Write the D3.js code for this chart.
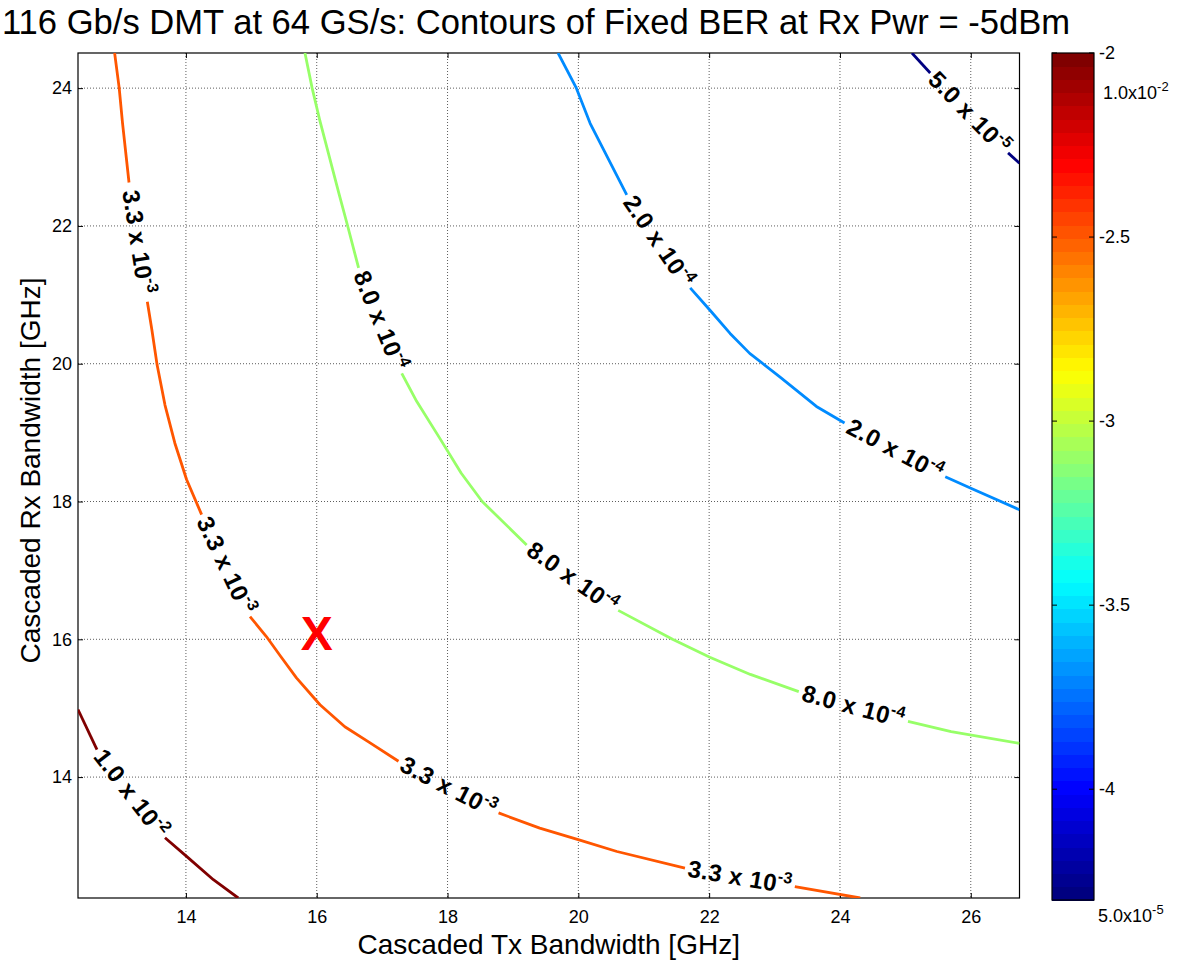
<!DOCTYPE html>
<html><head><meta charset="utf-8">
<script src="https://cdn.jsdelivr.net/npm/d3@7"></script>
<style>body{margin:0;background:#fff} text{font-family:"Liberation Sans",Arial,Helvetica,sans-serif}</style>
</head><body><svg id="c" width="1179" height="961"></svg>
<script>
// ---- data ----
const berLevels = [1.0e-2, 3.3e-3, 8.0e-4, 2.0e-4, 5.0e-5];
const berMantissa = ["1.0", "3.3", "8.0", "2.0", "5.0"];
const berExponent = ["-2", "-3", "-4", "-4", "-5"];

// contour pieces [TxBW, RxBW] in GHz; gaps between pieces hold the inline labels
const contour1e2 = [
  [[12.35,14.98],[12.64,14.40]],
  [[13.68,13.12],[14.01,12.85],[14.42,12.51],[14.80,12.245]]
];
const contour3p3e3 = [
  [[12.91,24.51],[12.98,24.00],[13.03,23.50],[13.13,22.63]],
  [[13.41,20.90],[13.48,20.49],[13.56,19.98],[13.68,19.40],[13.83,18.85],[14.01,18.32],[14.24,17.81]],
  [[14.98,16.33],[15.23,16.04],[15.45,15.75],[15.69,15.44],[16.05,15.05],[16.43,14.73],[16.81,14.50],[17.25,14.23]],
  [[18.78,13.48],[19.41,13.26],[20.01,13.09],[20.59,12.92],[21.63,12.68]],
  [[23.31,12.41],[24.31,12.245]]
];
const contour8e4 = [
  [[15.82,24.51],[15.93,24.00],[16.05,23.52],[16.34,22.47],[16.47,22.01],[16.64,21.39]],
  [[17.30,19.86],[17.53,19.45],[17.88,18.92],[18.21,18.41],[18.53,18.00],[19.21,17.37]],
  [[20.61,16.42],[21.44,16.00],[22.01,15.74],[22.63,15.49],[23.37,15.24]],
  [[25.04,14.81],[25.70,14.66],[26.745,14.49]]
];
const contour2e4 = [
  [[19.69,24.51],[19.97,24.00],[20.18,23.49],[20.74,22.45]],
  [[21.71,21.10],[22.01,20.78],[22.32,20.44],[22.62,20.15],[23.08,19.81],[23.64,19.38],[24.07,19.14]],
  [[25.61,18.36],[26.01,18.19],[26.745,17.88]]
];
const contour5e5 = [
  [[25.10,24.51],[25.38,24.22]],
  [[26.57,23.06],[26.745,22.91]]
];
const contours = [contour1e2, contour3p3e3, contour8e4, contour2e4, contour5e5];

const markerPoint = [16, 16];
const xTicks = [14, 16, 18, 20, 22, 24, 26];
const yTicks = [14, 16, 18, 20, 22, 24];
const cbTicks = [-2, -2.5, -3, -3.5, -4];
const xDomain = [12.35, 26.745];
const yDomain = [12.245, 24.51];
const cbDomain = [Math.log10(5e-5), -2];
const cbExtraMant = ["1.0", "5.0"];
const cbExtraExp = ["-2", "-5"];

const titleText = "116 Gb/s DMT at 64 GS/s: Contours of Fixed BER at Rx Pwr = -5dBm";
const xLabel = "Cascaded Tx Bandwidth [GHz]";
const yLabel = "Cascaded Rx Bandwidth [GHz]";

// ---- layout ----
const svg = d3.select("#c");
const M = {l: 78, t: 53, r: 1019.5, b: 898};
const CB = {l: 1052, r: 1094, t: 53, b: 900};
const x = d3.scaleLinear().domain(xDomain).range([M.l, M.r]);
const y = d3.scaleLinear().domain(yDomain).range([M.b, M.t]);
const yc = d3.scaleLinear().domain(cbDomain).range([CB.b, CB.t]);

const clamp = v => Math.max(0, Math.min(1, v));
function jet(t) {
  return d3.rgb(255 * clamp(1.5 - Math.abs(4 * t - 3)),
                255 * clamp(1.5 - Math.abs(4 * t - 2)),
                255 * clamp(1.5 - Math.abs(4 * t - 1))).toString();
}
const tOf = v => (Math.log10(v) - cbDomain[0]) / (cbDomain[1] - cbDomain[0]);

// grid
const grid = svg.append("g").attr("stroke", "#333").attr("stroke-width", 0.8).attr("stroke-dasharray", "1,2");
xTicks.forEach(t => grid.append("line").attr("x1", x(t)).attr("x2", x(t)).attr("y1", M.t).attr("y2", M.b));
yTicks.forEach(t => grid.append("line").attr("y1", y(t)).attr("y2", y(t)).attr("x1", M.l).attr("x2", M.r));

// axes
const fmt = d3.format("d");
const gx = svg.append("g").attr("transform", `translate(0,${M.b})`)
  .call(d3.axisBottom(x).tickValues(xTicks).tickSize(-5).tickPadding(12).tickFormat(fmt));
const gy = svg.append("g").attr("transform", `translate(${M.l},0)`)
  .call(d3.axisLeft(y).tickValues(yTicks).tickSize(-5).tickPadding(6).tickFormat(fmt));
const gt = svg.append("g").attr("transform", `translate(0,${M.t})`)
  .call(d3.axisTop(x).tickValues(xTicks).tickSize(-5).tickFormat(""));
const gr = svg.append("g").attr("transform", `translate(${M.r},0)`)
  .call(d3.axisRight(y).tickValues(yTicks).tickSize(-5).tickFormat(""));
[gx, gy, gt, gr].forEach(g => {
  g.select(".domain").remove();
  g.selectAll("text").attr("font-size", 18).attr("fill", "#000");
  g.selectAll("line").attr("stroke", "#000");
});
svg.append("rect").attr("x", M.l).attr("y", M.t).attr("width", M.r - M.l).attr("height", M.b - M.t)
  .attr("fill", "none").attr("stroke", "#000").attr("stroke-width", 1.2);

// contours
svg.append("clipPath").attr("id", "clip").append("rect")
  .attr("x", M.l).attr("y", M.t).attr("width", M.r - M.l).attr("height", M.b - M.t);
const cg = svg.append("g").attr("clip-path", "url(#clip)");
const lg = svg.append("g");
const line = d3.line().x(d => x(d[0])).y(d => y(d[1]));
contours.forEach((pieces, i) => {
  const col = jet(tOf(berLevels[i]));
  pieces.forEach(p => cg.append("path").attr("d", line(p)).attr("fill", "none")
    .attr("stroke", col).attr("stroke-width", 2.8).attr("stroke-linejoin", "round"));
  for (let k = 0; k < pieces.length - 1; k++) {
    const a = pieces[k][pieces[k].length - 1], b = pieces[k + 1][0];
    const ax = x(a[0]), ay = y(a[1]), bx = x(b[0]), by = y(b[1]);
    let ang = Math.atan2(by - ay, bx - ax) * 180 / Math.PI;
    if (ang > 90) ang -= 180;
    if (ang < -90) ang += 180;
    const g = lg.append("g").attr("transform", `translate(${(ax + bx) / 2},${(ay + by) / 2}) rotate(${ang})`);
    const t = g.append("text").attr("text-anchor", "middle").attr("font-weight", "bold")
      .attr("font-size", 24).attr("y", 8).attr("fill", "#000").attr("letter-spacing", 0.4);
    t.append("tspan").text(berMantissa[i] + " x 10");
    t.append("tspan").attr("font-size", 16).attr("dy", -10).text(berExponent[i]);
  }
});

// marker
svg.append("text").attr("x", x(markerPoint[0])).attr("y", y(markerPoint[1]) + 11)
  .attr("text-anchor", "middle").attr("font-weight", "bold").attr("font-size", 48)
  .attr("fill", "#ff0000").text("X");

// colorbar
const nb = 64;
const cbg = svg.append("g").attr("shape-rendering", "crispEdges");
d3.range(nb).forEach(i => {
  const v0 = cbDomain[0] + (cbDomain[1] - cbDomain[0]) * i / nb;
  const v1 = cbDomain[0] + (cbDomain[1] - cbDomain[0]) * (i + 1) / nb;
  cbg.append("rect").attr("x", CB.l).attr("width", CB.r - CB.l)
    .attr("y", yc(v1)).attr("height", yc(v0) - yc(v1) + 0.5).attr("fill", jet(i / (nb - 1)));
});
svg.append("rect").attr("x", CB.l).attr("y", CB.t).attr("width", CB.r - CB.l).attr("height", CB.b - CB.t)
  .attr("fill", "none").attr("stroke", "#000").attr("stroke-width", 1.2);
cbTicks.forEach(v => {
  svg.append("line").attr("x1", CB.l).attr("x2", CB.l + 5).attr("y1", yc(v)).attr("y2", yc(v)).attr("stroke", "#000");
  svg.append("line").attr("x1", CB.r - 5).attr("x2", CB.r).attr("y1", yc(v)).attr("y2", yc(v)).attr("stroke", "#000");
  svg.append("text").attr("x", CB.r + 5).attr("y", yc(v)).attr("dy", "0.35em")
    .attr("font-size", 18).text(String(v));
});
[[1103, 99], [1098, 922]].forEach((p, i) => {
  const t = svg.append("text").attr("x", p[0]).attr("y", p[1]).attr("font-size", 18);
  t.append("tspan").text(cbExtraMant[i] + "x10");
  t.append("tspan").attr("font-size", 13).attr("dy", -8).text(cbExtraExp[i]);
});

// titles
svg.append("text").attr("x", 536).attr("y", 34).attr("text-anchor", "middle").attr("font-size", 34.6).text(titleText);
svg.append("text").attr("x", (M.l + M.r) / 2).attr("y", 954).attr("text-anchor", "middle").attr("font-size", 28).text(xLabel);
svg.append("text").attr("transform", `translate(40,${(M.t + M.b) / 2 - 5}) rotate(-90)`)
  .attr("text-anchor", "middle").attr("font-size", 28).text(yLabel);
</script></body></html>
